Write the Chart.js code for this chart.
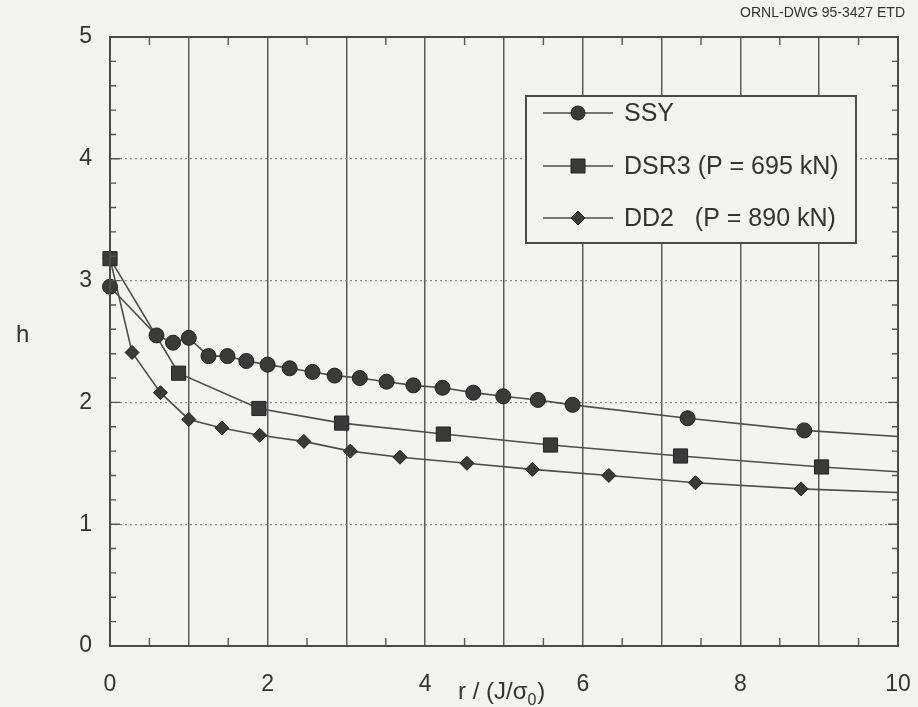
<!DOCTYPE html>
<html>
<head>
<meta charset="utf-8">
<script src="https://cdn.jsdelivr.net/npm/chart.js@4/dist/chart.umd.min.js"></script>
<style>
  html, body { margin: 0; padding: 0; background: #f3f3f1; }
  #wrap { width: 918px; height: 707px; }
</style>
</head>
<body>
<div id="wrap"><canvas id="c" width="918" height="707"></canvas></div>
<script>
// h versus normalised distance r / (J/sigma0) ahead of the crack tip.
// The last entry of each series only carries the fitted line on to r = 10 (no marker).
const ssyX  = [0, 0.59, 0.80, 1.00, 1.25, 1.49, 1.73, 2.00, 2.28, 2.57, 2.85, 3.17, 3.51, 3.85, 4.22, 4.61, 4.99, 5.43, 5.87, 7.33, 8.81, 10];
const ssyY  = [2.95, 2.55, 2.49, 2.53, 2.38, 2.38, 2.34, 2.31, 2.28, 2.25, 2.22, 2.20, 2.17, 2.14, 2.12, 2.08, 2.05, 2.02, 1.98, 1.87, 1.77, 1.72];
const dsrX  = [0, 0.87, 1.89, 2.94, 4.23, 5.59, 7.24, 9.03, 10];
const dsrY  = [3.18, 2.24, 1.95, 1.83, 1.74, 1.65, 1.56, 1.47, 1.43];
const dd2X  = [0, 0.28, 0.64, 1.00, 1.42, 1.90, 2.46, 3.05, 3.68, 4.53, 5.36, 6.33, 7.43, 8.77, 10];
const dd2Y  = [3.18, 2.41, 2.08, 1.86, 1.79, 1.73, 1.68, 1.60, 1.55, 1.50, 1.45, 1.40, 1.34, 1.29, 1.26];

const seriesNames = ['SSY', 'DSR3 (P = 695 kN)', 'DD2   (P = 890 kN)'];
const xTickLabels = ['0', '2', '4', '6', '8', '10'];
const yTickLabels = ['0', '1', '2', '3', '4', '5'];
const drawingId = 'ORNL-DWG 95-3427 ETD';

const FONT = '"Liberation Sans", Arial, Helvetica, sans-serif';
const INK = '#333333';
const LINE = '#4d4d4d';
const MARK_FILL = '#3a3a3a';
const MARK_EDGE = '#222222';
const BG = '#f3f3f1';

function pts(xs, ys) { return xs.map((x, i) => ({ x: x, y: ys[i] })); }

function series(label, xs, ys, style, r) {
  const last = xs.length - 1;
  return {
    label: label,
    data: pts(xs, ys),
    showLine: true,
    tension: 0,
    borderColor: LINE,
    borderWidth: 1.6,
    pointStyle: style,
    pointRadius: ctx => ctx.dataIndex === last ? 0 : r,
    pointBackgroundColor: MARK_FILL,
    pointBorderColor: MARK_EDGE,
    pointBorderWidth: 1,
    clip: false
  };
}

// Background, inward minor ticks, frame, legend box and titles.
const decor = {
  id: 'decor',
  beforeDraw(chart) {
    const ctx = chart.ctx;
    ctx.save();
    ctx.fillStyle = BG;
    ctx.fillRect(0, 0, chart.width, chart.height);
    ctx.restore();
  },
  afterDatasetsDraw(chart) {
    const ctx = chart.ctx;
    const a = chart.chartArea;
    const xs = chart.scales.x, ys = chart.scales.y;
    ctx.save();
    ctx.strokeStyle = '#555';
    ctx.lineWidth = 1.4;
    // minor ticks on x every 0.5, pointing into the plot
    for (let v = 0.5; v < 10; v += 1) {
      const px = xs.getPixelForValue(v);
      ctx.beginPath();
      ctx.moveTo(px, a.bottom); ctx.lineTo(px, a.bottom - 8);
      ctx.moveTo(px, a.top); ctx.lineTo(px, a.top + 8);
      ctx.stroke();
    }
    // minor ticks on y every 0.2
    for (let k = 1; k < 25; k++) {
      const v = k * 0.2;
      const py = ys.getPixelForValue(v);
      const len = (k % 5 === 0) ? 10 : 6;
      ctx.beginPath();
      ctx.moveTo(a.left, py); ctx.lineTo(a.left + len, py);
      ctx.moveTo(a.right, py); ctx.lineTo(a.right - len, py);
      ctx.stroke();
    }
    // frame
    ctx.lineWidth = 2;
    ctx.strokeStyle = '#4a4a4a';
    ctx.strokeRect(a.left, a.top, a.right - a.left, a.bottom - a.top);

    // legend box
    const lx = 526, ly = 96, lw = 330, lh = 147;
    ctx.fillStyle = BG;
    ctx.fillRect(lx, ly, lw, lh);
    ctx.strokeStyle = '#4a4a4a';
    ctx.lineWidth = 2;
    ctx.strokeRect(lx, ly, lw, lh);
    const rows = [113, 166, 218];
    chart.data.datasets.forEach((ds, i) => {
      const y = rows[i];
      ctx.strokeStyle = LINE;
      ctx.lineWidth = 1.6;
      ctx.beginPath();
      ctx.moveTo(543, y); ctx.lineTo(613, y);
      ctx.stroke();
      ctx.fillStyle = MARK_FILL;
      ctx.strokeStyle = MARK_EDGE;
      ctx.lineWidth = 1;
      ctx.beginPath();
      if (ds.pointStyle === 'circle') {
        ctx.arc(578, y, 7, 0, Math.PI * 2);
      } else if (ds.pointStyle === 'rect') {
        ctx.rect(578 - 7, y - 7, 14, 14);
      } else {
        ctx.moveTo(578, y - 7); ctx.lineTo(585, y); ctx.lineTo(578, y + 7); ctx.lineTo(571, y); ctx.closePath();
      }
      ctx.fill(); ctx.stroke();
      ctx.fillStyle = INK;
      ctx.font = '25px ' + FONT;
      ctx.textAlign = 'left';
      ctx.textBaseline = 'middle';
      ctx.fillText(ds.label, 624, y + 1);
    });

    // axis titles
    ctx.fillStyle = INK;
    ctx.textBaseline = 'alphabetic';
    ctx.font = '24px ' + FONT;
    ctx.textAlign = 'left';
    ctx.fillText('h', 16, 342);
    const t1 = 'r / (J/σ';
    ctx.fillText(t1, 458, 699);
    const w1 = ctx.measureText(t1).width;
    ctx.font = '16px ' + FONT;
    ctx.fillText('0', 458 + w1, 705);
    const w2 = ctx.measureText('0').width;
    ctx.font = '24px ' + FONT;
    ctx.fillText(')', 458 + w1 + w2 + 1, 699);

    // drawing number
    ctx.font = '14px ' + FONT;
    ctx.textAlign = 'right';
    ctx.fillText(drawingId, 905, 17);
    ctx.restore();
  }
};

new Chart(document.getElementById('c'), {
  type: 'scatter',
  data: {
    datasets: [
      series(seriesNames[0], ssyX, ssyY, 'circle', 7.5),
      series(seriesNames[1], dsrX, dsrY, 'rect', 10),
      series(seriesNames[2], dd2X, dd2Y, 'rectRot', 7)
    ]
  },
  options: {
    responsive: false,
    animation: false,
    layout: { padding: { left: 0, top: 37, right: 20, bottom: 0 } },
    plugins: { legend: { display: false }, tooltip: { enabled: false } },
    scales: {
      x: {
        type: 'linear', min: 0, max: 10,
        afterFit(s) { s.height = 61; s.paddingLeft = 0; s.paddingRight = 0; },
        border: { display: false },
        grid: { color: '#5a5a5a', lineWidth: 1.5, drawTicks: false },
        ticks: {
          stepSize: 1, padding: 25, color: INK,
          font: { family: FONT, size: 23 },
          callback: v => (v % 2 === 0) ? xTickLabels[v / 2] : ''
        }
      },
      y: {
        type: 'linear', min: 0, max: 5,
        afterFit(s) { s.width = 110; s.paddingTop = 0; s.paddingBottom = 0; },
        border: { display: false, dash: [2, 3] },
        grid: { color: '#8a8a8a', lineWidth: 1.2, drawTicks: false },
        ticks: {
          stepSize: 1, padding: 18, color: INK,
          font: { family: FONT, size: 23 },
          callback: v => yTickLabels[v]
        }
      }
    }
  },
  plugins: [decor]
});
</script>
</body>
</html>
